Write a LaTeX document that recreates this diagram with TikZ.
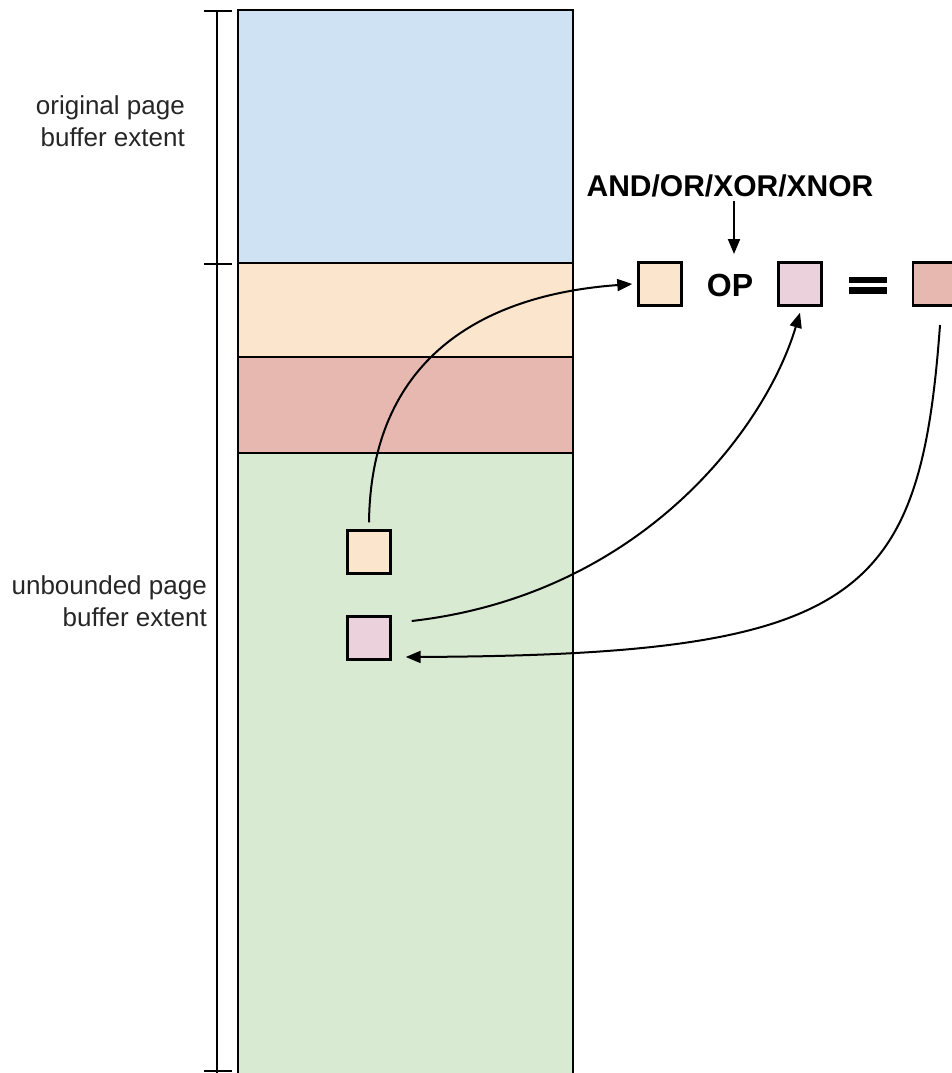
\documentclass[tikz,border=0pt]{standalone}
\usepackage{fontspec}
\setmainfont{Liberation Sans}
\usetikzlibrary{arrows.meta}
\definecolor{cblue}{HTML}{CFE2F3}
\definecolor{corange}{HTML}{FCE5CD}
\definecolor{cred}{HTML}{E6B8AF}
\definecolor{cgreen}{HTML}{D9EAD3}
\definecolor{cpink}{HTML}{EAD1DC}
\tikzset{
  seg/.style={draw=black, line width=2.6pt},
  cell/.style={draw=black, line width=2.4pt, minimum width=43pt, minimum height=43pt, inner sep=0pt},
  lbl/.style={font=\fontsize{26}{32}\selectfont, align=right, text=black!85, inner sep=0pt},
  opfont/.style={font=\bfseries\fontsize{30}{32}\selectfont, inner sep=0pt},
  bigop/.style={font=\bfseries\fontsize{32}{34}\selectfont, inner sep=0pt},
  conn/.style={line width=2pt, -{Triangle[length=15pt,width=12pt]}},
  tick/.style={line width=2.6pt}
}
\begin{document}
\begin{tikzpicture}[x=1pt,y=-1pt]
\useasboundingbox (0,0) rectangle (952,1073);
% memory column
\filldraw[seg, fill=cblue]   (238,10)  rectangle (573,263);
\filldraw[seg, fill=corange] (238,263) rectangle (573,357);
\filldraw[seg, fill=cred]    (238,357) rectangle (573,453);
\filldraw[seg, fill=cgreen]  (238,453) rectangle (573,1075);
% extent bracket
\draw[tick] (217,11) -- (217,1073);
\draw[tick] (204,11) -- (232,11);
\draw[tick] (204,264) -- (232,264);
\draw[tick] (204,1071) -- (232,1071);
\node[lbl, anchor=east] (orig) at (185,121) {original page\\buffer extent};
\node[lbl, anchor=east] (unb) at (207,601) {unbounded page\\buffer extent};
% operands inside the buffer
\node[cell, fill=corange] (a) at (369,552) {};
\node[cell, fill=cpink]   (b) at (369,638) {};
% operation row
\node[cell, fill=corange] (ta) at (660,284) {};
\node[bigop] (op) at (730,285) {OP};
\node[cell, fill=cpink]   (tb) at (800,284) {};
\fill (849,277) rectangle (887,283);
\fill (849,287) rectangle (887,294);
\node[cell, fill=cred, anchor=west] (tr) at (912,284) {};
\node[opfont] (ops) at (730,186) {AND/OR/XOR/XNOR};
\coordinate (opin) at (734,254);
\draw[conn] (734,201) -- (opin);
% data flow
\draw[conn] ([yshift=7pt]a.north) .. controls (371,360) and (480,295) .. ([xshift=-5pt]ta.west);
\draw[conn] ([xshift=20pt,yshift=17pt]b.east) .. controls (640,595) and (765,430) .. ([yshift=-6pt]tb.south);
\draw[conn] (940,325) .. controls (920,600) and (860,655) .. ([xshift=14pt,yshift=-19pt]b.east);
\end{tikzpicture}
\end{document}
